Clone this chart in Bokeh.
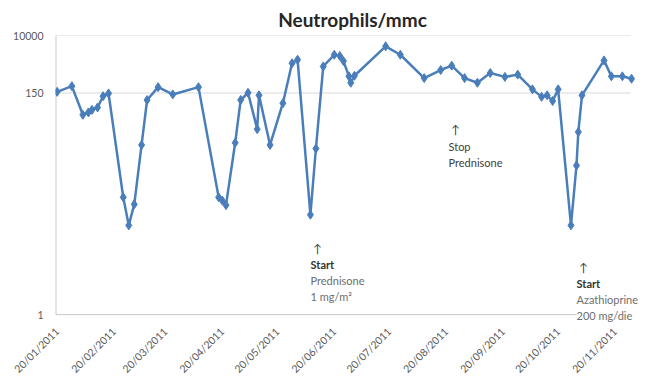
from datetime import datetime
from math import pi

from bokeh.plotting import figure
from bokeh.models import Range1d, FixedTicker, DatetimeTickFormatter, Label, ColumnDataSource
from bokeh.embed import file_html
from bokeh.resources import INLINE

# ---- data ----
dates = [
    "2011-01-20", "2011-01-28", "2011-02-03", "2011-02-06", "2011-02-08", "2011-02-11",
    "2011-02-14", "2011-02-17", "2011-02-25", "2011-02-28", "2011-03-03", "2011-03-07",
    "2011-03-10", "2011-03-16", "2011-03-24", "2011-04-07", "2011-04-18", "2011-04-20",
    "2011-04-22", "2011-04-27", "2011-04-30", "2011-05-04", "2011-05-09", "2011-05-10",
    "2011-05-16", "2011-05-23", "2011-05-28", "2011-05-31", "2011-06-07", "2011-06-10",
    "2011-06-14", "2011-06-20", "2011-06-23", "2011-06-25", "2011-06-28", "2011-06-29",
    "2011-07-01", "2011-07-18", "2011-07-26", "2011-08-08", "2011-08-17", "2011-08-23",
    "2011-08-30", "2011-09-06", "2011-09-13", "2011-09-21", "2011-09-28", "2011-10-06",
    "2011-10-11", "2011-10-14", "2011-10-17", "2011-10-20", "2011-10-27", "2011-10-30",
    "2011-10-31", "2011-11-02", "2011-11-14", "2011-11-18", "2011-11-24", "2011-11-29",
]
neutrophils = [
    1560, 1880, 730, 790, 860, 930,
    1350, 1480, 48, 19, 38, 270,
    1190, 1820, 1430, 1820, 48, 43,
    37, 290, 1190, 1510, 455, 1390,
    270, 1070, 4000, 4500, 27, 240,
    3600, 5300, 5100, 4300, 2600, 2100,
    2650, 7000, 5300, 2450, 3200, 3700,
    2450, 2100, 2900, 2550, 2750, 1690,
    1320, 1390, 1150, 1690, 19, 137,
    415, 1390, 4400, 2600, 2600, 2400,
]
tick_dates = ["2011-%02d-20" % m for m in range(1, 12)]
y_ticks = [1, 1500, 10000]
y_tick_labels = ["1", "150", "10000"]

x = [datetime.strptime(d, "%Y-%m-%d") for d in dates]
source = ColumnDataSource(data=dict(x=x, y=neutrophils))

BLUE = "#4A7EBB"
GREY_TXT = "#595959"
AXIS_GREY = "#C8C8C8"
GRID_GREY = "#D9D9D9"
FONT = "Lato"

X_START = datetime(2011, 1, 19, 2)
X_END = datetime(2011, 12, 8, 19)      # frame runs to the right edge so notes are not clipped
GRID_END = datetime(2011, 11, 28, 12)  # where the gridlines / x axis line stop
Y_MIN, Y_MAX = 0.6115, 10000           # frame runs a little below 1 so the last note is not clipped

p = figure(
    width=649, height=382,
    x_axis_type="datetime", y_axis_type="log",
    output_backend="svg", toolbar_location=None,
    min_border_left=55, min_border_right=0, min_border_top=34, min_border_bottom=52,
)
p.x_range = Range1d(X_START, X_END)
p.y_range = Range1d(Y_MIN, Y_MAX)

p.title.text = "Neutrophils/mmc"
p.title.align = "center"
p.title.text_font = FONT
p.title.text_font_size = "19px"
p.title.text_font_style = "bold"
p.title.text_color = "#262626"
p.title.offset = -14

p.outline_line_color = None
p.background_fill_color = "white"
p.border_fill_color = "white"

# y axis (line drawn as a segment so it stops at 1)
p.yaxis.ticker = FixedTicker(ticks=y_ticks)
p.yaxis.major_label_overrides = {t: l for t, l in zip(y_ticks, y_tick_labels)}
p.yaxis.major_tick_line_color = None
p.yaxis.minor_tick_line_color = None
p.yaxis.major_tick_out = 0
p.yaxis.major_tick_in = 0
p.yaxis.axis_line_color = None
p.yaxis.major_label_text_font = FONT
p.yaxis.major_label_text_font_size = "10.5px"
p.yaxis.major_label_text_color = GREY_TXT
p.yaxis.major_label_standoff = 12

# x axis
tick_ms = [datetime.strptime(d, "%Y-%m-%d").timestamp() * 1000 for d in tick_dates]
p.xaxis.ticker = FixedTicker(ticks=tick_ms)
p.xaxis.formatter = DatetimeTickFormatter(days="%d/%m/%Y", months="%d/%m/%Y", years="%d/%m/%Y")
p.xaxis.major_label_orientation = pi / 4
p.xaxis.major_tick_line_color = None
p.xaxis.minor_tick_line_color = None
p.xaxis.major_tick_out = 0
p.xaxis.major_tick_in = 0
p.xaxis.axis_line_color = None
p.xaxis.major_label_text_font = FONT
p.xaxis.major_label_text_font_size = "10.5px"
p.xaxis.major_label_text_color = GREY_TXT
p.xaxis.major_label_standoff = 0

# grid + axis lines
p.xgrid.grid_line_color = None
p.ygrid.grid_line_color = None
p.segment(x0=[X_START, X_START], y0=[1500, 10000], x1=[GRID_END, GRID_END], y1=[1500, 10000],
          line_color=GRID_GREY, line_width=1)
p.segment(x0=[X_START], y0=[1], x1=[GRID_END], y1=[1], line_color=AXIS_GREY, line_width=1)
p.segment(x0=[X_START], y0=[1], x1=[X_START], y1=[10000], line_color=AXIS_GREY, line_width=2)

# series
p.line("x", "y", source=source, line_color=BLUE, line_width=2.5)
p.scatter("x", "y", source=source, marker="diamond", size=9, fill_color=BLUE, line_color=BLUE)

# annotations (canvas px converted to frame-relative screen units)
FL, FB = 55, 330

def note(text, cx, cy, bold=False, color="#404040", size="11px", bg=None, align="left"):
    lab = Label(x=cx - FL, y=FB - cy, x_units="screen", y_units="screen", text=text,
                text_font=FONT, text_font_size=size, text_color=color,
                text_font_style="bold" if bold else "normal",
                text_align=align, text_baseline="middle")
    if bg:
        lab.background_fill_color = bg
    p.add_layout(lab)

# Start Prednisone
note("↑", 317, 249, color="#404040", size="12px", align="center")
note("Start", 310, 265, bold=True, color="#333333")
note("Prednisone", 310, 281, color="#6E6E6E")
note("1 mg/m²", 310, 297, color="#6E6E6E")
# Stop Prednisone
note("↑", 455, 130, color="#404040", size="12px", align="center")
note("Stop", 448, 147, color="#404040")
note("Prednisone", 448, 163, color="#404040")
# Start Azathioprine
note("↑", 583, 268, color="#404040", size="12px", align="center")
note("Start", 576, 284, bold=True, color="#333333")
note("Azathioprine", 576, 300, color="#6E6E6E")
note("200 mg/die", 576, 316, color="#6E6E6E", bg="white")

open("out.html", "w").write(file_html(p, INLINE))
